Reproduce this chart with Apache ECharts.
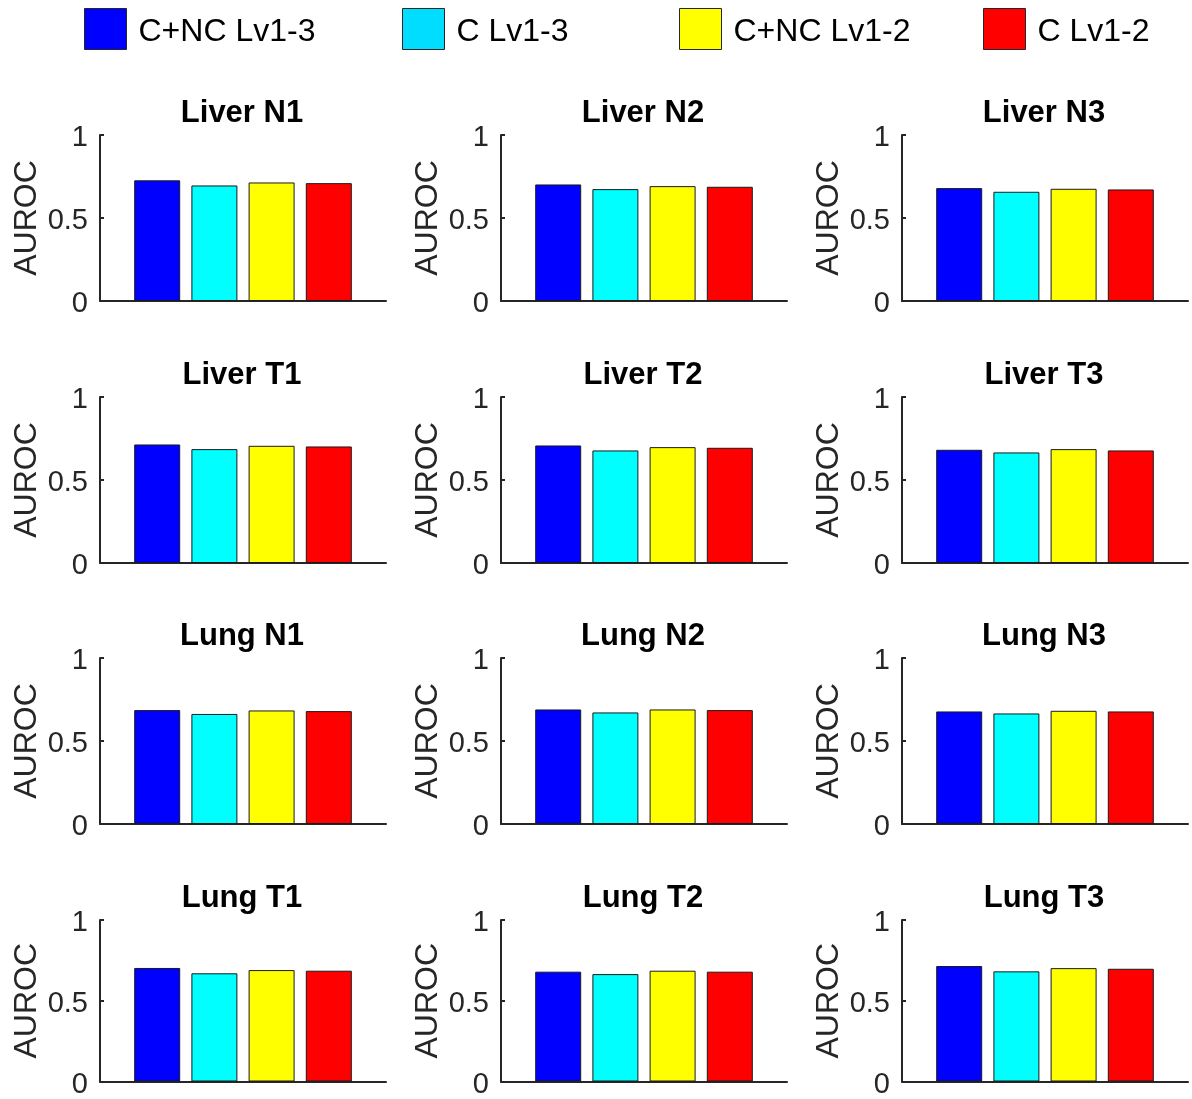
<!DOCTYPE html>
<html>
<head>
<meta charset="utf-8">
<script src="https://cdn.jsdelivr.net/npm/echarts@6/dist/echarts.min.js"></script>
<style>
html,body{margin:0;padding:0;background:#fff;}
#c{width:1192px;height:1099px;}
</style>
</head>
<body>
<div id="c"></div>
<script>
const panels = ['Liver N1','Liver N2','Liver N3','Liver T1','Liver T2','Liver T3','Lung N1','Lung N2','Lung N3','Lung T1','Lung T2','Lung T3'];
const methods = ['C+NC Lv1-3','C Lv1-3','C+NC Lv1-2','C Lv1-2'];
const colors = ['#0000FF','#00FFFF','#FFFF00','#FF0000'];
const legendColors = ['#0000FF','#00DDFF','#FFFF00','#FF0000'];
const yTicks = [0, 0.5, 1];
// values per method, ordered by panel
const cncLv13 = [0.727, 0.702, 0.680, 0.714, 0.708, 0.682, 0.686, 0.690, 0.678, 0.703, 0.680, 0.715];
const cLv13   = [0.696, 0.674, 0.658, 0.686, 0.678, 0.666, 0.663, 0.672, 0.666, 0.670, 0.665, 0.682];
const cncLv12 = [0.714, 0.692, 0.676, 0.706, 0.698, 0.686, 0.684, 0.690, 0.682, 0.690, 0.686, 0.702];
const cLv12   = [0.710, 0.688, 0.672, 0.702, 0.694, 0.678, 0.680, 0.686, 0.678, 0.686, 0.680, 0.698];
const valuesByMethod = [cncLv13, cLv13, cncLv12, cLv12];

const FONT = 'Liberation Sans, Arial, sans-serif';
const AX = '#262626';
const gridLefts = [100, 501, 902];
const gridTops = [135, 397, 658, 920];
const GW = 286, GH = 166;
const slots = [''].concat(methods).concat(['']);

const grid = [], xAxis = [], yAxis = [], title = [], series = [];
panels.forEach((p, i) => {
  const r = Math.floor(i / 3), c = i % 3;
  grid.push({left: gridLefts[c], top: gridTops[r], width: GW, height: GH});
  xAxis.push({
    type: 'category', gridIndex: i, data: slots, boundaryGap: false,
    axisLine: {show: true, lineStyle: {color: AX, width: 2}},
    axisTick: {show: false}, axisLabel: {show: false}, splitLine: {show: false}
  });
  yAxis.push({
    type: 'value', gridIndex: i, min: 0, max: 1, interval: 0.5,
    name: 'AUROC', nameLocation: 'middle', nameGap: 57,
    nameTextStyle: {fontSize: 32, color: AX, fontFamily: FONT},
    axisLine: {show: true, lineStyle: {color: AX, width: 2}},
    axisTick: {show: true, inside: true, length: 4, lineStyle: {color: AX, width: 2}},
    axisLabel: {margin: 12,
      formatter: v => yTicks.indexOf(v) >= 0 ? '{t|' + v + '}' : '',
      rich: {t: {fontSize: 29, color: AX, fontFamily: FONT, padding: [6, 0, 0, 0]}}},
    splitLine: {show: false}
  });
  title.push({
    text: p, left: gridLefts[c] + GW / 2 - 1, textAlign: 'center', top: gridTops[r] - 37, padding: 0,
    textStyle: {fontSize: 31, fontWeight: 'bold', color: '#000', fontFamily: FONT}
  });
  methods.forEach((m, k) => {
    const data = slots.map(() => '-');
    data[k + 1] = valuesByMethod[k][i];
    series.push({
      type: 'bar', name: m, xAxisIndex: i, yAxisIndex: i, data: data,
      barWidth: 46, barGap: '-100%',
      itemStyle: {color: colors[k], borderColor: '#1a1a1a', borderWidth: 1},
      emphasis: {disabled: true}, animation: false
    });
  });
});

const legendLefts = [84, 402, 679, 983];
const legend = methods.map((m, k) => ({
  data: [{name: m, itemStyle: {color: legendColors[k], borderColor: AX, borderWidth: 1}}],
  left: legendLefts[k], top: 8, padding: 0, itemWidth: 42, itemHeight: 41, icon: 'rect',
  selectedMode: false,
  formatter: '{t|{name}}',
  textStyle: {rich: {t: {fontSize: 32, color: '#000', fontFamily: FONT, padding: [7, 0, 0, 7]}}}
}));

const chart = echarts.init(document.getElementById('c'), null, {renderer: 'canvas'});
chart.setOption({animation: false, backgroundColor: '#fff', grid, xAxis, yAxis, title, legend, series});
</script>
</body>
</html>
